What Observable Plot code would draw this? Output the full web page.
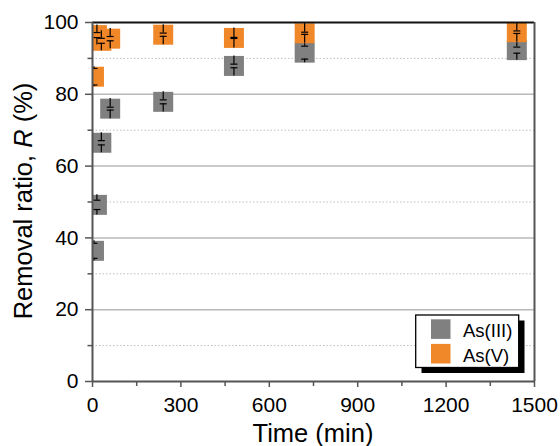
<!DOCTYPE html>
<html>
<head>
<meta charset="utf-8">
<script src="https://cdn.jsdelivr.net/npm/d3@7"></script>
<script src="https://cdn.jsdelivr.net/npm/@observablehq/plot@0.6"></script>
<style>
  html, body { margin: 0; padding: 0; background: white; }
  #chart { width: 560px; height: 446px; }
</style>
</head>
<body>
<div id="chart"></div>
<script>
// ---- data ----
const times   = [5, 15, 30, 60, 240, 480, 720, 1440];
const asIII    = [36.4, 49.2, 66.5, 76.0, 77.9, 87.9, 91.6, 92.3];
const asIIIerr = [2.1, 1.3, 0.6, 0.4, 0.55, 0.5, 1.8, 0.85];
const asV      = [84.9, 96.5, 94.9, 95.5, 96.6, 95.7, 97.0, 97.3];
const asVerr   = [2.3, 0.7, 0.7, 0.6, 0.45, 0.15, 0.3, 0.35];
const seriesNames = ["As(III)", "As(V)"];
const seriesColors = ["#808080", "#f0882a"];
const xTicks = [0, 300, 600, 900, 1200, 1500];
const xMinor = [150, 450, 750, 1050, 1350];
const yTicks = [0, 20, 40, 60, 80, 100];
const yMinor = [10, 30, 50, 70, 90];
const yGrid = [20, 40, 60, 80];

const span = 2.8; // whisker half length (symbol half height)
function rows(vals, errs) {
  return times.map((t, i) => ({t, v: vals[i], e: errs[i]}));
}
const gray = rows(asIII, asIIIerr);
const orange = rows(asV, asVerr);

const capSymbol = {
  draw(ctx, size) { const w = 3.5; ctx.moveTo(-w, 0); ctx.lineTo(w, 0); }
};

function errMarks(d) {
  return [
    Plot.ruleX(d, {x: "t", y1: r => r.v + r.e, y2: r => r.v + Math.max(r.e, span), stroke: "black", strokeWidth: 1.2, clip: true}),
    Plot.ruleX(d, {x: "t", y1: r => r.v - r.e, y2: r => r.v - Math.max(r.e, span), stroke: "black", strokeWidth: 1.2, clip: true}),
    Plot.dot(d, {x: "t", y: r => r.v + r.e, symbol: capSymbol, stroke: "black", strokeWidth: 1.2, fill: "none", clip: true}),
    Plot.dot(d, {x: "t", y: r => r.v - r.e, symbol: capSymbol, stroke: "black", strokeWidth: 1.2, fill: "none", clip: true})
  ];
}

const plot = Plot.plot({
  width: 560,
  height: 446,
  marginLeft: 92,
  marginRight: 26,
  marginTop: 22,
  marginBottom: 65,
  x: {domain: [0, 1500]},
  y: {domain: [0, 100]},
  style: {fontFamily: "'Liberation Sans', Arial, sans-serif", fontSize: "21px", color: "black", background: "white"},
  marks: [
    Plot.ruleY(yMinor, {stroke: "#bdbdbd", strokeWidth: 1, strokeDasharray: "1.5,2"}),
    Plot.ruleY(yGrid, {stroke: "#b8b8b8", strokeWidth: 1.5}),
    Plot.axisY({ticks: yTicks, tickSize: 7, tickPadding: 7, tickFormat: d => String(d), label: null, stroke: "#555", strokeWidth: 1.5, fontSize: 21, fill: "black"}),
    Plot.axisY({ticks: yMinor, tickSize: 4.5, tickFormat: () => "", label: null, stroke: "#555", strokeWidth: 1.5}),
    Plot.axisX({ticks: xTicks, tickSize: 6, tickPadding: 10, tickFormat: d => String(d), label: null, stroke: "#555", strokeWidth: 1.5, fontSize: 21, fill: "black"}),
    Plot.axisX({ticks: xMinor, tickSize: 5, tickFormat: () => "", label: null, stroke: "#555", strokeWidth: 1.5}),
    Plot.dot(gray, {x: "t", y: "v", symbol: "square", r: 11.28, fill: seriesColors[0], stroke: "none", clip: true}),
    ...errMarks(gray),
    Plot.dot(orange, {x: "t", y: "v", symbol: "square", r: 11.28, fill: seriesColors[1], stroke: "none", clip: true}),
    ...errMarks(orange),
    Plot.ruleY([100], {stroke: "#111", strokeWidth: 2}),
    Plot.ruleX([1500], {stroke: "#555", strokeWidth: 2}),
    Plot.ruleX([0], {stroke: "#555", strokeWidth: 2}),
    Plot.ruleY([0], {stroke: "#555", strokeWidth: 2})
  ]
});

document.getElementById("chart").appendChild(plot);

// ---- axis titles and legend ----
const svg = d3.select(plot);
const ff = "'Liberation Sans', Arial, sans-serif";
const yl = svg.append("text")
  .attr("transform", "translate(32,201) rotate(-90)")
  .attr("text-anchor", "middle")
  .attr("font-family", ff).attr("font-size", 25.5).attr("fill", "black");
yl.append("tspan").text("Removal ratio, ");
yl.append("tspan").attr("font-style", "italic").text("R");
yl.append("tspan").text(" (%)");

svg.append("text")
  .attr("x", 313).attr("y", 442)
  .attr("text-anchor", "middle")
  .attr("font-family", ff).attr("font-size", 25.5).attr("fill", "black")
  .text("Time (min)");

const lg = svg.append("g");
lg.append("rect").attr("x", 421.5).attr("y", 320.5).attr("width", 103).attr("height", 52.5).attr("fill", "black");
lg.append("rect").attr("x", 415.7).attr("y", 315).attr("width", 103).attr("height", 52.5)
  .attr("fill", "white").attr("stroke", "black").attr("stroke-width", 1.3);
seriesNames.forEach((name, i) => {
  lg.append("rect").attr("x", 431).attr("y", 319.3 + i * 24.6).attr("width", 19.5).attr("height", 19.6).attr("fill", seriesColors[i]);
  lg.append("text").attr("x", 463).attr("y", 336.5 + i * 25)
    .attr("text-anchor", "start")
    .attr("font-family", ff).attr("font-size", 18.5).attr("fill", "black").text(name);
});
</script>
</body>
</html>
